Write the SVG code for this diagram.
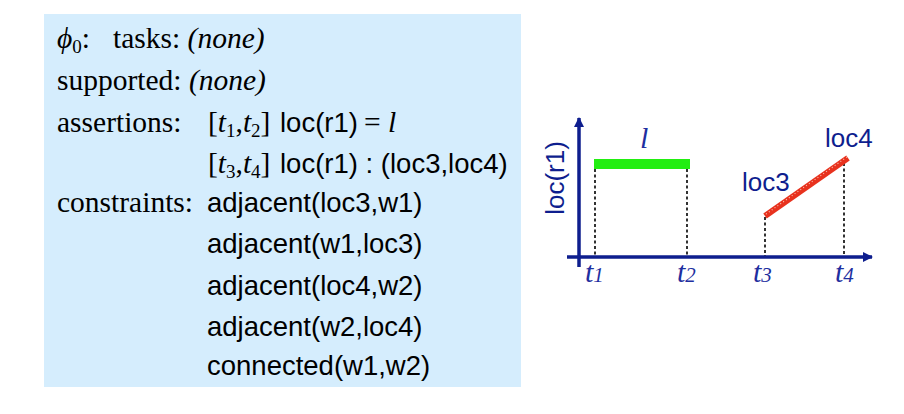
<svg xmlns="http://www.w3.org/2000/svg" width="904" height="414" viewBox="0 0 904 414">
<defs>
<style>
.serif{font-family:"Liberation Serif","Times New Roman",serif;font-size:29.5px;fill:#000}
.it{font-style:italic}
.sans{font-family:"Liberation Sans",Arial,sans-serif;font-size:27.5px;fill:#000}
.glab{font-family:"Liberation Sans",Arial,sans-serif;font-size:26px;fill:#0e1e8e}
.tlab{font-family:"Liberation Serif","Times New Roman",serif;font-style:italic;font-size:30px;fill:#1f2fa0}
.axis{stroke:#0e1e8e;stroke-width:3.5;fill:none}
.dash{stroke:#000;stroke-width:1.6;stroke-dasharray:3 2.5;fill:none}
</style>
<marker id="arr" viewBox="0 0 10 10" refX="9" refY="5" markerWidth="10" markerHeight="10" markerUnits="userSpaceOnUse" orient="auto">
<path d="M0,0 L10,5 L0,10 z" fill="#0e1e8e"/>
</marker>
</defs>
<rect width="904" height="414" fill="#fff"/>
<g id="state-box">
<rect x="44" y="14" width="477" height="373" fill="#d5edfd"/>
<text class="serif" x="57" y="48"><tspan class="it">ϕ</tspan><tspan font-size="19" dy="5">0</tspan><tspan dy="-5">:</tspan></text>
<text class="serif" x="113" y="48">tasks: <tspan class="it">(none)</tspan></text>
<text class="serif" x="57" y="90">supported: <tspan class="it">(none)</tspan></text>
<text class="serif" x="57" y="132">assertions:</text>
<text class="serif" x="208" y="132">[<tspan class="it">t</tspan><tspan font-size="19" dy="5">1</tspan><tspan dy="-5">,</tspan><tspan class="it">t</tspan><tspan font-size="19" dy="5">2</tspan><tspan dy="-5">]</tspan></text>
<text class="sans" x="280" y="132">loc(r1)</text>
<text class="serif" x="364" y="132">= <tspan class="it">l</tspan></text>
<text class="serif" x="208" y="173">[<tspan class="it">t</tspan><tspan font-size="19" dy="5">3</tspan><tspan dy="-5">,</tspan><tspan class="it">t</tspan><tspan font-size="19" dy="5">4</tspan><tspan dy="-5">]</tspan></text>
<text class="sans" x="280" y="173">loc(r1) : (loc3,loc4)</text>
<text class="serif" x="57" y="212">constraints:</text>
<text class="sans" x="207" y="212">adjacent(loc3,w1)</text>
<text class="sans" x="207" y="253">adjacent(w1,loc3)</text>
<text class="sans" x="207" y="295">adjacent(loc4,w2)</text>
<text class="sans" x="207" y="336">adjacent(w2,loc4)</text>
<text class="sans" x="207" y="375">connected(w1,w2)</text>
</g>
<g id="timeline">
<g id="connectors">
<line class="axis" x1="579" y1="267" x2="579" y2="118" marker-end="url(#arr)"/>
<line class="axis" x1="567" y1="257" x2="872" y2="257" marker-end="url(#arr)"/>
<line class="dash" x1="595" y1="169" x2="595" y2="256"/>
<line class="dash" x1="687" y1="169" x2="687" y2="256"/>
<line class="dash" x1="765" y1="217" x2="765" y2="256"/>
<line class="dash" x1="844" y1="163" x2="844" y2="256"/>
</g>
<g id="value-l">
<rect x="594" y="159" width="96" height="10" fill="#22ee11"/>
<text class="tlab" x="640" y="148">l</text>
</g>
<g id="value-loc3-loc4">
<line x1="765" y1="216" x2="848" y2="158" stroke="#e8321e" stroke-width="6"/>
<line x1="766" y1="214" x2="847" y2="157" stroke="#f6c0b0" stroke-width="1.2" stroke-dasharray="1 2.5"/>
<text class="glab" x="742" y="191">loc3</text>
<text class="glab" x="825" y="147">loc4</text>
</g>
<text class="glab" transform="translate(564,178) rotate(-90)" text-anchor="middle">loc(r1)</text>
<text class="tlab" x="585" y="282">t<tspan font-size="21">1</tspan></text>
<text class="tlab" x="677" y="282">t<tspan font-size="21">2</tspan></text>
<text class="tlab" x="753" y="282">t<tspan font-size="21">3</tspan></text>
<text class="tlab" x="835" y="282">t<tspan font-size="21">4</tspan></text>
</g>
</svg>
